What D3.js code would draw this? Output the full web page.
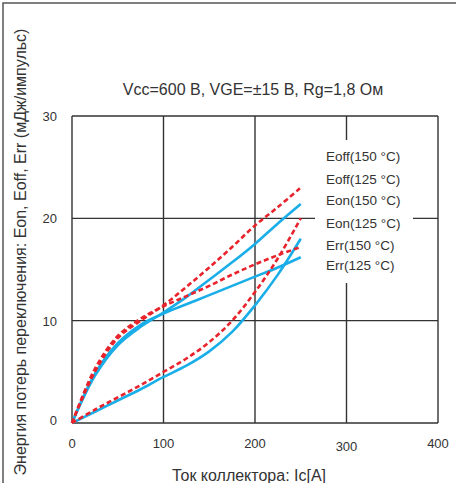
<!DOCTYPE html>
<html>
<head>
<meta charset="utf-8">
<script src="https://cdn.jsdelivr.net/npm/d3@7/dist/d3.min.js"></script>
<style>
    html, body { margin: 0; padding: 0; background: #fff; }
    svg { display: block; font-family: Arial, "Liberation Sans", sans-serif; }
</style>
</head>
<body>
<div id="chart"></div>
<script>
// Ток коллектора, А
const currents = [0, 25, 50, 75, 100, 125, 150, 175, 200, 225, 250];

// Энергия потерь, мДж/импульс
const eoff150 = [0, 5.0, 8.3, 10.0, 11.5, 13.3, 15.2, 17.2, 19.3, 21.1, 23.0];
const eoff125 = [0, 4.6, 7.6, 9.4, 10.8, 12.3, 14.0, 15.7, 17.5, 19.5, 21.4];
const eon150  = [0, 1.3, 2.5, 3.7, 5.0, 6.3, 7.9, 10.0, 12.8, 16.1, 20.0];
const eon125  = [0, 1.1, 2.2, 3.3, 4.5, 5.6, 7.0, 8.9, 11.5, 14.5, 18.0];
const err150  = [0, 5.3, 8.5, 10.2, 11.4, 12.4, 13.4, 14.5, 15.5, 16.4, 17.2];
const err125  = [0, 4.8, 7.8, 9.6, 10.7, 11.6, 12.5, 13.4, 14.3, 15.2, 16.2];

const legendLabels = ['Eoff(150 °C)', 'Eoff(125 °C)', 'Eon(150 °C)', 'Eon(125 °C)', 'Err(150 °C)', 'Err(125 °C)'];
const xTicks = [0, 100, 200, 300, 400];
const yTicks = [0, 10, 20, 30];

const W = 456, H = 483;
const BLUE = '#19aee8';
const RED  = '#e8232c';

const svg = d3.select('#chart').append('svg')
    .attr('width',  W)
    .attr('height', H);

// Внешняя рамка (видны только левая и верхняя стороны)
svg.append('path')
    .attr('d', `M3,${H} V3 H${W}`)
    .attr('fill', 'none')
    .attr('stroke', '#555')
    .attr('stroke-width', 1.5);

const x = d3.scaleLinear().domain([0, 400]).range([72, 438]);
const y = d3.scaleLinear().domain([0, 30]).range([423, 116]);

// ── Сетка и рамка графика ──────────────────────────────────────────────
const grid = svg.append('g')
    .attr('stroke', '#333')
    .attr('stroke-width', 1.4);

xTicks.forEach(t => {
    grid.append('line')
        .attr('x1', x(t)).attr('x2', x(t))
        .attr('y1', y(0)).attr('y2', y(30));
});
yTicks.forEach(t => {
    grid.append('line')
        .attr('x1', x(0)).attr('x2', x(400))
        .attr('y1', y(t)).attr('y2', y(t));
});

// Белая подложка легенды закрывает часть сетки
svg.append('rect')
    .attr('x', 315).attr('y', 140)
    .attr('width', 98).attr('height', 143)
    .attr('fill', '#fff');

// ── Подписи осей ──────────────────────────────────────────────────────
svg.append('g').selectAll('text')
    .data(xTicks)
    .join('text')
    .attr('x', d => x(d))
    .attr('y', d => d === 300 ? 451 : 448)
    .attr('text-anchor', 'middle')
    .attr('font-size', 13)
    .attr('fill', '#333')
    .text(d => d);

svg.append('g').selectAll('text')
    .data(yTicks)
    .join('text')
    .attr('x', 57)
    .attr('y', d => y(d) + (d === 0 ? 2 : 5))
    .attr('text-anchor', 'end')
    .attr('font-size', 13)
    .attr('fill', '#333')
    .text(d => d);

svg.append('text')
    .attr('x', 249).attr('y', 481)
    .attr('text-anchor', 'middle')
    .attr('font-size', 16)
    .attr('fill', '#333')
    .text('Ток коллектора: Ic[A]');

svg.append('text')
    .attr('transform', 'translate(26,252) rotate(-90)')
    .attr('text-anchor', 'middle')
    .attr('font-size', 16)
    .attr('fill', '#333')
    .text('Энергия потерь переключения: Eon, Eoff, Err (мДж/импульс)');

svg.append('text')
    .attr('x', 253).attr('y', 95)
    .attr('text-anchor', 'middle')
    .attr('font-size', 16)
    .attr('fill', '#333')
    .text('Vcc=600 В, VGE=±15 В, Rg=1,8 Ом');

// ── Кривые ────────────────────────────────────────────────────────────
const line = d3.line()
    .x((d, i) => x(currents[i]))
    .y(d => y(d))
    .curve(d3.curveCatmullRom.alpha(0.5));

const series = [
    { values: eoff125, color: BLUE, dash: null },
    { values: eon125,  color: BLUE, dash: null },
    { values: err125,  color: BLUE, dash: null },
    { values: eoff150, color: RED,  dash: '5 3' },
    { values: eon150,  color: RED,  dash: '5 3' },
    { values: err150,  color: RED,  dash: '5 3' }
];

svg.append('g').selectAll('path')
    .data(series)
    .join('path')
    .attr('d', d => line(d.values))
    .attr('fill', 'none')
    .attr('stroke', d => d.color)
    .attr('stroke-width', 2.6)
    .attr('stroke-dasharray', d => d.dash);

// ── Легенда (только текст) ────────────────────────────────────────────
const legendY = [161, 184, 205, 228, 250, 270];
svg.append('g').selectAll('text')
    .data(legendLabels)
    .join('text')
    .attr('x', 326)
    .attr('y', (d, i) => legendY[i])
    .attr('font-size', 13.5)
    .attr('fill', '#333')
    .text(d => d);
</script>
</body>
</html>
